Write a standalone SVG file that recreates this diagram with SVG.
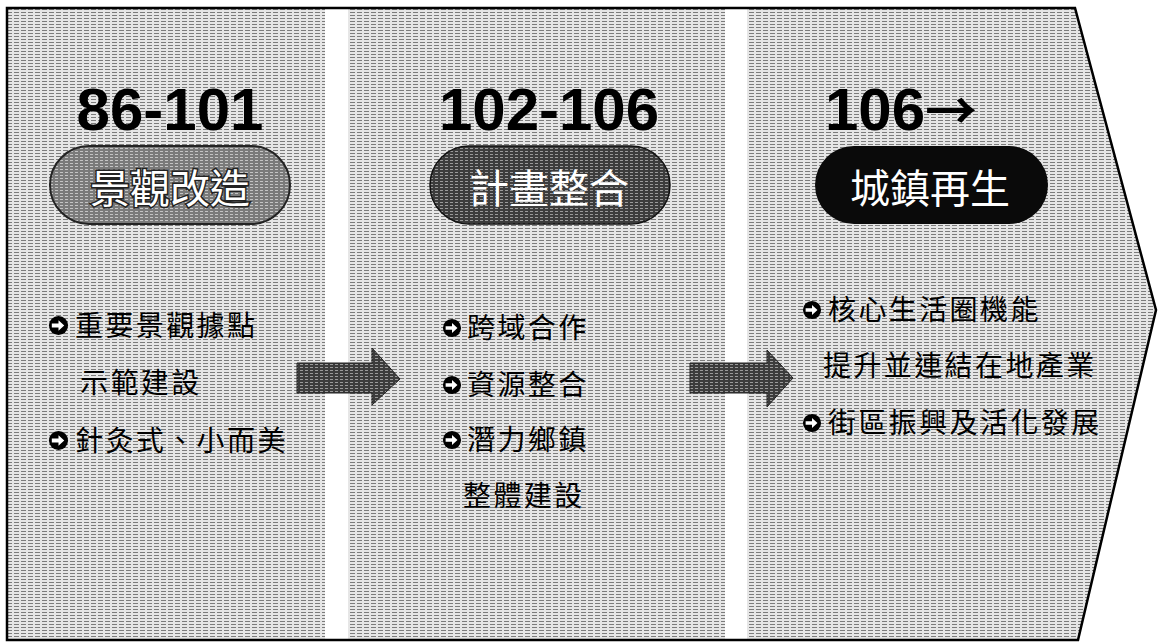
<svg xmlns="http://www.w3.org/2000/svg" width="1159" height="644" viewBox="0 0 1159 644">
  <defs>
    <pattern id="scan" width="7" height="3" patternUnits="userSpaceOnUse">
      <rect width="7" height="3" fill="#e6e6e6"/>
      <rect x="0" y="0" width="5" height="1" fill="#7c7c7c"/>
    </pattern>
    <pattern id="scanDark" width="5" height="3" patternUnits="userSpaceOnUse">
      <rect width="5" height="3" fill="#3c3c3c"/>
      <rect x="0" y="1" width="3" height="1" fill="#9a9a9a"/>
    </pattern>
    <pattern id="scanMid" width="5" height="3" patternUnits="userSpaceOnUse">
      <rect width="5" height="3" fill="#7a7a7a"/>
      <rect x="0" y="1" width="3" height="1" fill="#c4c4c4"/>
    </pattern>
    <symbol id="bullet" viewBox="0 0 22 22">
      <circle cx="11" cy="11" r="10" fill="#000"/>
      <path d="M4,9 H11 V5.5 L17,11 L11,16.5 V13 H4 Z" fill="#fff"/>
    </symbol>
  </defs>
  <style>
    .panel { fill: url(#scan); }
    .year { font-family: "Liberation Sans", Arial, sans-serif; font-weight: 700; font-size: 60px; fill: #000; }
    .yarrow { font-family: "Noto Sans CJK TC", "Noto Sans CJK SC", sans-serif; font-weight: 700; }
    .pilltxt { font-family: "Noto Sans CJK TC", "Noto Sans CJK SC", sans-serif; font-size: 40px; fill: #fff; text-anchor: middle; }
    .item { font-family: "Noto Sans CJK TC", "Noto Sans CJK SC", sans-serif; font-size: 28px; fill: #000; letter-spacing: 2.4px; }
    .arrow { fill: url(#scanDark); stroke: #222; stroke-width: 1; }
  </style>
  <rect width="1159" height="644" fill="#fff"/>

  <g id="col1">
    <rect class="panel" x="8" y="9" width="317" height="630"/>
    <text class="year" x="170" y="130" text-anchor="middle">86-101</text>
    <rect x="50" y="146" width="240" height="78" rx="39" fill="url(#scanMid)" stroke="#222" stroke-width="2"/>
    <text class="pilltxt" x="170" y="203" stroke="#222" stroke-width="3" paint-order="stroke">景觀改造</text>
    <use href="#bullet" x="48" y="315" width="21" height="21"/>
    <text class="item" x="75" y="336">重要景觀據點</text>
    <text class="item" x="80" y="393">示範建設</text>
    <use href="#bullet" x="48" y="430" width="21" height="21"/>
    <text class="item" x="75" y="451">針灸式、小而美</text>
  </g>

  <g id="col2">
    <rect class="panel" x="348" y="9" width="377" height="630"/>
    <text class="year" x="549" y="130" text-anchor="middle">102-106</text>
    <rect x="430" y="146" width="240" height="78" rx="39" fill="url(#scanDark)" stroke="#111" stroke-width="1.5"/>
    <text class="pilltxt" x="549" y="203">計畫整合</text>
    <use href="#bullet" x="442" y="318" width="20" height="20"/>
    <text class="item" x="467" y="338">跨域合作</text>
    <use href="#bullet" x="442" y="375" width="20" height="20"/>
    <text class="item" x="467" y="395">資源整合</text>
    <use href="#bullet" x="442" y="430" width="20" height="20"/>
    <text class="item" x="467" y="450">潛力鄉鎮</text>
    <text class="item" x="463" y="506">整體建設</text>
  </g>

  <g id="col3">
    <polygon class="panel" points="747,9 1075,9 1156,310 1078,639 747,639"/>
    <text class="year" x="825" y="130">106<tspan class="yarrow" font-size="52">→</tspan></text>
    <rect x="815" y="146" width="233" height="78" rx="39" fill="#0a0a0a"/>
    <text class="pilltxt" x="930" y="203">城鎮再生</text>
    <use href="#bullet" x="802" y="300" width="20" height="20"/>
    <text class="item" x="828" y="320">核心生活圈機能</text>
    <text class="item" x="823" y="376">提升並連結在地產業</text>
    <use href="#bullet" x="802" y="413" width="20" height="20"/>
    <text class="item" x="828" y="433">街區振興及活化發展</text>
  </g>

  <g id="connectors">
    <polygon class="arrow" points="297,363 372,363 372,348 400,379 372,405 372,393 297,393"/>
    <polygon class="arrow" points="690,363 767,363 767,350 793,378 767,407 767,393 690,393"/>
  </g>

  <g id="frame">
    <path d="M7,8 H1075 L1156,310 L1078,640 H7 Z" fill="none" stroke="#000" stroke-width="2.5" stroke-linejoin="miter"/>
  </g>
</svg>
